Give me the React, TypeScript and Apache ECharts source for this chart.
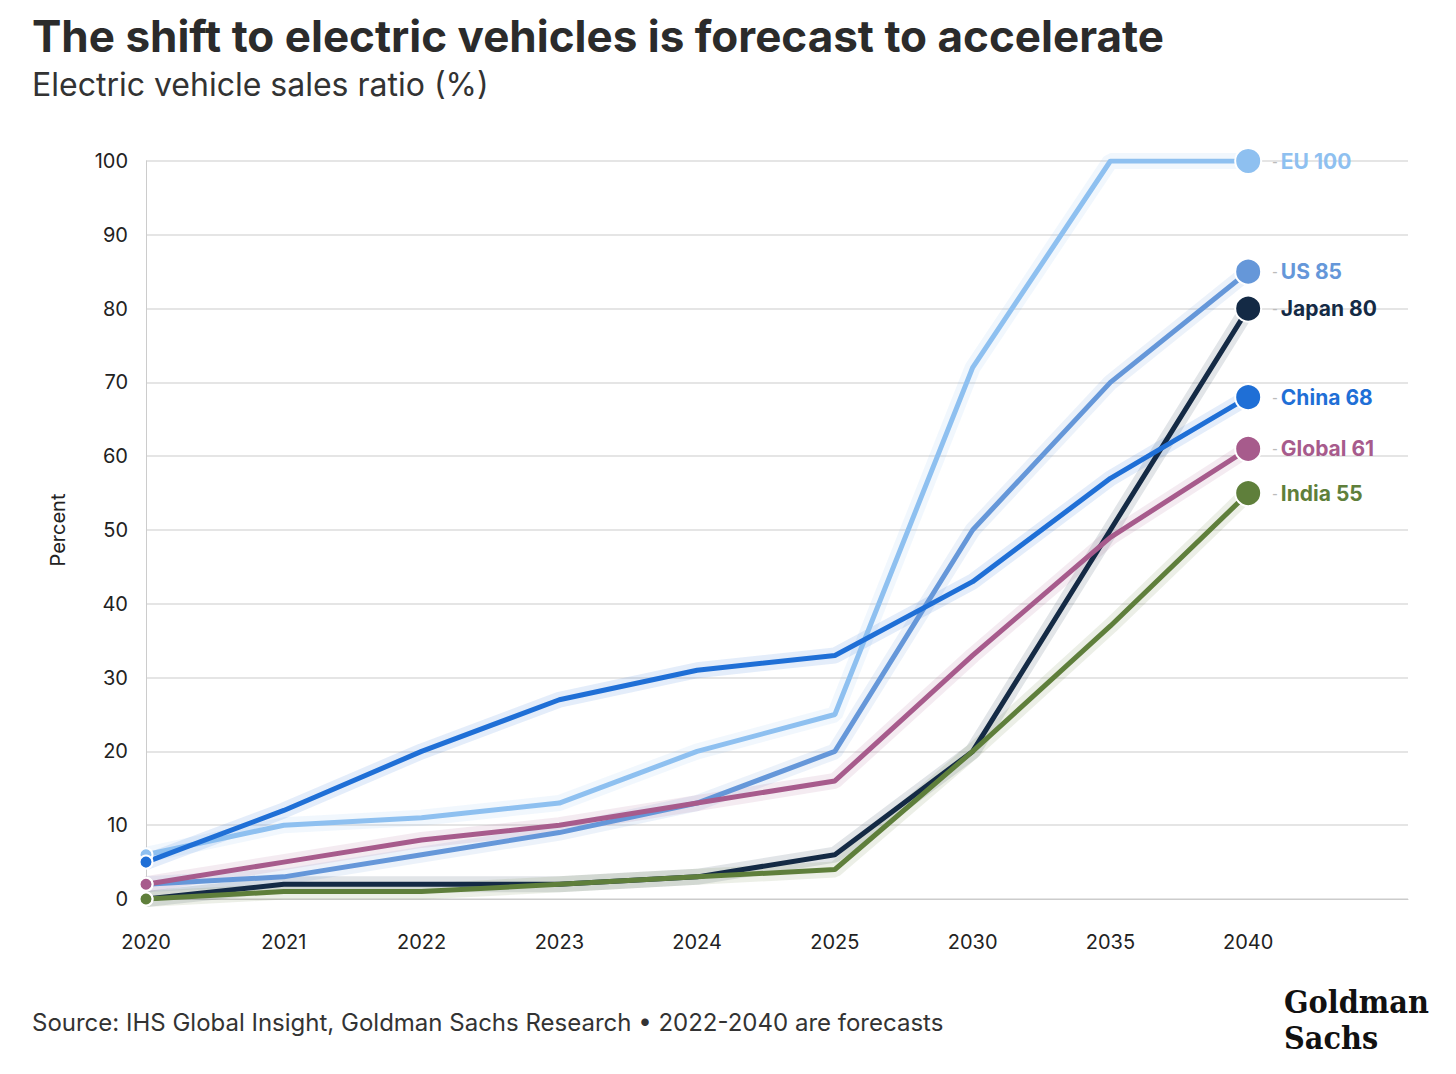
import React, { useEffect, useRef } from 'react';
import * as echarts from 'echarts';

const years = ['2020', '2021', '2022', '2023', '2024', '2025', '2030', '2035', '2040'];
const names = ['EU', 'US', 'Japan', 'China', 'Global', 'India'];
const colors = ['#8ec0f0', '#6597d9', '#142a45', '#1f6fd6', '#a75b8c', '#5f7f3b'];
const euValues = [6, 10, 11, 13, 20, 25, 72, 100, 100];
const usValues = [2, 3, 6, 9, 13, 20, 50, 70, 85];
const japanValues = [0, 2, 2, 2, 3, 6, 20, 50, 80];
const chinaValues = [5, 12, 20, 27, 31, 33, 43, 57, 68];
const globalValues = [2, 5, 8, 10, 13, 16, 33, 49, 61];
const indiaValues = [0, 1, 1, 2, 3, 4, 20, 37, 55];
const allValues = [euValues, usValues, japanValues, chinaValues, globalValues, indiaValues];

const font = 'Inter, "Noto Sans", sans-serif';

const App = () => {
  const chartRef = useRef<HTMLDivElement>(null);

  useEffect(() => {
    const chart = echarts.init(chartRef.current, null, { renderer: 'svg' });
    const series: any[] = [];
    // soft glow under each line
    allValues.forEach((vals, i) => {
      const pts = vals.map((v, j) => [j, v]);
      series.push({
        type: 'line', data: pts, symbol: 'none', silent: true, z: 1,
        lineStyle: { color: colors[i], width: 16, opacity: 0.12 },
      });
    });
    allValues.forEach((vals, i) => {
      const last = vals.length - 1;
      const pts = vals.map((v, j) => ({
        value: [j, v],
        symbol: j === 0 || j === last ? 'circle' : 'none',
        symbolSize: j === last ? 26 : 13,
        label: j === last ? {
          show: true, position: 'right', distance: 10,
          formatter: `{d|-} {t|${names[i]} ${v}}`,
          rich: {
            d: { color: '#bbb', fontSize: 16 },
            t: { color: colors[i], fontSize: 21, fontWeight: 'bold', fontFamily: font },
          },
        } : { show: false },
      }));
      series.push({
        type: 'line', data: pts, z: 3,
        itemStyle: { color: colors[i], borderColor: '#fff', borderWidth: 2 },
        lineStyle: { color: colors[i], width: 5 },
      });
    });

    chart.setOption({
      animation: false,
      grid: { left: 146, right: 48, top: 161, bottom: 175 },
      xAxis: {
        type: 'value', min: 0, max: 9.16, interval: 1, offset: 19,
        axisLine: { show: true, lineStyle: { color: '#ccc' } },
        axisTick: { show: false },
        splitLine: { show: false },
        axisLabel: {
          color: '#222', fontSize: 20, fontFamily: font, margin: 14, showMaxLabel: false,
          formatter: (v: number) => years[v] ?? '',
        },
      },
      yAxis: {
        type: 'value', min: 0, max: 100, interval: 10,
        name: 'Percent', nameLocation: 'middle', nameGap: 78,
        nameTextStyle: { color: '#222', fontSize: 20, fontFamily: font },
        axisLine: { show: true, lineStyle: { color: '#ccc' } },
        axisTick: { show: false },
        splitLine: { lineStyle: { color: '#ddd', width: 1.5 } },
        axisLabel: { color: '#222', fontSize: 20, fontFamily: font, margin: 18 },
      },
      graphic: [
        { type: 'text', left: 32, top: 14, style: { text: 'The shift to electric vehicles is forecast to accelerate', font: `bold 44px ${font}`, fill: '#2b2b2b' } },
        { type: 'text', left: 32, top: 68, style: { text: 'Electric vehicle sales ratio (%)', font: `32px ${font}`, fill: '#333' } },
        { type: 'text', left: 32, top: 1010, style: { text: 'Source: IHS Global Insight, Goldman Sachs Research • 2022-2040 are forecasts', font: `24px ${font}`, fill: '#333' } },
        { type: 'text', left: 1284, top: 984, style: { text: 'Goldman\nSachs', font: 'bold 32px "DejaVu Serif Condensed", "DejaVu Serif", serif', lineHeight: 36, fill: '#111' } },
      ],
      series,
    });
    return () => chart.dispose();
  }, []);

  return <div ref={chartRef} style={{ position: 'fixed', left: 0, top: 0, width: 1456, height: 1074, background: '#fff' }} />;
};

export default App;
